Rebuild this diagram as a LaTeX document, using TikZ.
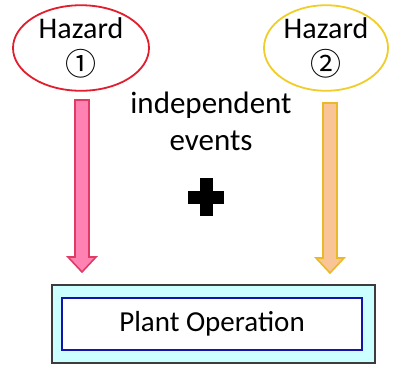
\documentclass[tikz,border=0pt]{standalone}
\usepackage{fontspec}
\setmainfont{Carlito}
\newfontfamily\symfont{Noto Sans CJK JP}
\usetikzlibrary{shapes.geometric, positioning}
\definecolor{hazredline}{RGB}{224, 30, 45}
\definecolor{hazyellowline}{RGB}{240, 205, 40}
\definecolor{pinkfill}{RGB}{255, 130, 178}
\definecolor{pinkline}{RGB}{222, 60, 100}
\definecolor{peachfill}{RGB}{249, 196, 150}
\definecolor{peachline}{RGB}{235, 185, 40}
\definecolor{plantframe}{RGB}{60, 60, 60}
\definecolor{plantfill}{RGB}{204, 255, 255}
\definecolor{plantblue}{RGB}{20, 20, 170}

\begin{document}
\begin{tikzpicture}[
    x=1pt, y=-1pt,
    hazard/.style={ellipse, line width=1.8pt, minimum width=136pt, minimum height=72pt,
        inner sep=0pt, align=center, font=\fontsize{30}{37}\selectfont},
    blockarrow/.style={line width=1.6pt, line join=miter},
    label/.style={align=center, font=\fontsize{31}{37}\selectfont}
]
    \useasboundingbox (0,0) rectangle (395,365);

    % hazards
    \node[hazard, draw=hazredline] (haz1) at (81,48) {Hazard\\{\symfont\fontsize{31}{31}\selectfont ①}};
    \node[hazard, draw=hazyellowline, minimum width=124pt] (haz2) at (326,48) {Hazard\\{\symfont\fontsize{31}{31}\selectfont ②}};

    % block arrows
    \coordinate (arr1) at (82,100);
    \coordinate (arr2) at (330,103);
    \draw[blockarrow, draw=pinkline, fill=pinkfill] (arr1) ++(-7,0) -- ++(0,157) -- ++(-7,0)
        -- ++(14,15) -- ++(14,-15) -- ++(-7,0) -- ++(0,-157) -- cycle;
    \draw[blockarrow, draw=peachline, fill=peachfill] (arr2) ++(-7,0) -- ++(0,155) -- ++(-7,0)
        -- ++(14,15) -- ++(14,-15) -- ++(-7,0) -- ++(0,-155) -- cycle;

    % middle text and plus
    \node[label, anchor=base] (indep) at (211,113) {independent};
    \node[label, anchor=base] (events) at (211,150) {events};
    \coordinate (plus) at (206,197);
    \draw[line width=13pt] (plus) ++(0,-19) -- ++(0,38);
    \draw[line width=13pt] (plus) ++(-18,0) -- ++(36,0);

    % plant box
    \node[draw=plantframe, line width=1.4pt, fill=plantfill, minimum width=323pt,
        minimum height=78pt, inner sep=0pt] (frame) at (213.5,324) {};
    \node[draw=plantblue, line width=2.8pt, fill=white, minimum width=300pt,
        minimum height=52pt, inner sep=0pt, font=\fontsize{29}{31}\selectfont] (plant) at (212,324) {Plant Operation};
\end{tikzpicture}
\end{document}
